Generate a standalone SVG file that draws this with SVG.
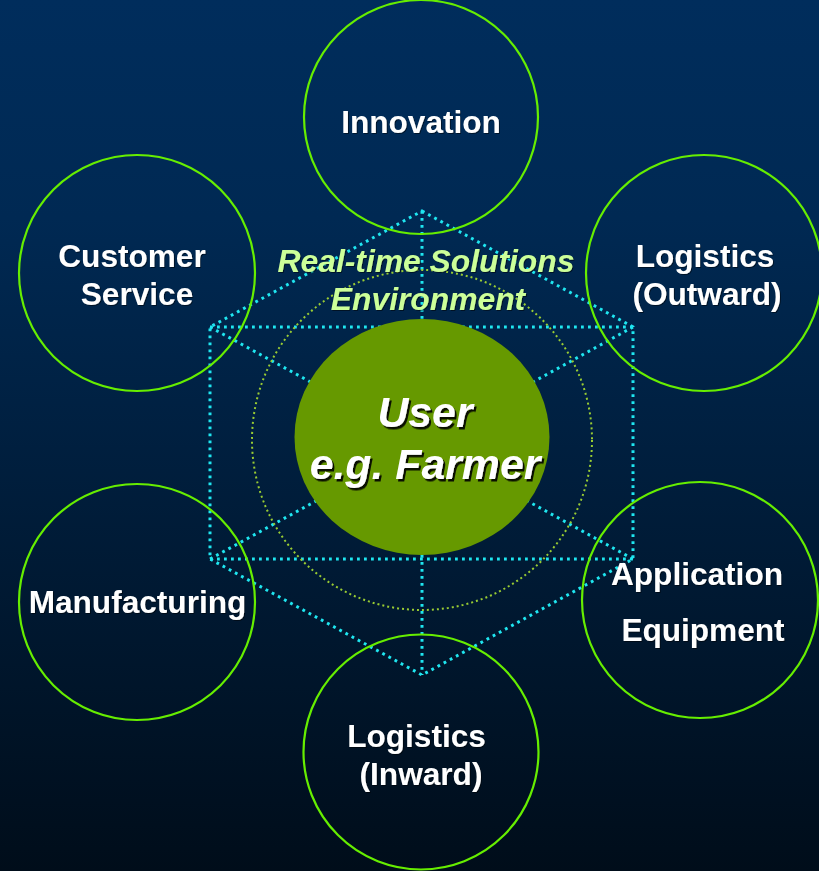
<svg xmlns="http://www.w3.org/2000/svg" width="819" height="871" viewBox="0 0 819 871">
<defs>
<linearGradient id="bg" x1="0" y1="0" x2="0" y2="1">
<stop offset="0" stop-color="#002D5C"/>
<stop offset="0.25" stop-color="#002953"/>
<stop offset="1" stop-color="#000D1A"/>
</linearGradient>
<filter id="sh" x="-10%" y="-20%" width="130%" height="150%">
<feDropShadow dx="2" dy="2.5" stdDeviation="0.6" flood-color="#000000" flood-opacity="0.9"/>
</filter>
<filter id="sh2" x="-10%" y="-20%" width="130%" height="150%">
<feDropShadow dx="1" dy="1" stdDeviation="0.5" flood-color="#000000" flood-opacity="0.5"/>
</filter>
</defs>
<style>
.node{fill:none;stroke:#66EE00;stroke-width:2.2}
.lbl{font-family:"Liberation Sans",Arial,sans-serif;font-weight:bold;font-size:31.6px;fill:#FFFFFF;text-anchor:middle}
.dot{fill:none;stroke:#1FE6F0;stroke-width:3;stroke-dasharray:2.8 4.2;stroke-linecap:butt}
.env{font-family:"Liberation Sans",Arial,sans-serif;font-weight:bold;font-style:italic;font-size:31.8px;fill:#CCFF99;text-anchor:middle}
.usr{font-family:"Liberation Sans",Arial,sans-serif;font-weight:bold;font-style:italic;font-size:42.8px;fill:#FFFFFF;text-anchor:middle}
</style>
<rect x="0" y="0" width="819" height="871" fill="url(#bg)"/>

<g id="connectors">
<path class="dot" d="M422,211 L633,327 L633,559 L422,675 L210,559 L210,327 Z"/>
<line class="dot" x1="210" y1="327" x2="633" y2="327"/>
<line class="dot" x1="210" y1="559" x2="633" y2="559"/>
<line class="dot" x1="422" y1="211" x2="422" y2="443"/>
<line class="dot" x1="422" y1="443" x2="422" y2="675"/>
<line class="dot" x1="210" y1="327" x2="422" y2="443"/>
<line class="dot" x1="633" y1="327" x2="422" y2="443"/>
<line class="dot" x1="210" y1="559" x2="422" y2="443"/>
<line class="dot" x1="633" y1="559" x2="422" y2="443"/>
<circle cx="422" cy="440" r="170" fill="none" stroke="#99CC33" stroke-width="2" stroke-dasharray="2 3"/>
</g>

<g id="innovation">
<circle class="node" cx="421" cy="117" r="117"/>
<text class="lbl" x="421" y="133" filter="url(#sh2)">Innovation</text>
</g>
<g id="customer-service">
<circle class="node" cx="137" cy="273" r="118"/>
<text class="lbl" filter="url(#sh2)"><tspan x="132" y="267">Customer</tspan><tspan x="137" y="305">Service</tspan></text>
</g>
<g id="logistics-outward">
<circle class="node" cx="704" cy="273" r="118"/>
<text class="lbl" filter="url(#sh2)"><tspan x="705" y="267">Logistics</tspan><tspan x="707" y="305">(Outward)</tspan></text>
</g>
<g id="manufacturing">
<circle class="node" cx="137" cy="602" r="118"/>
<text class="lbl" x="137.5" y="613" filter="url(#sh2)">Manufacturing</text>
</g>
<g id="application-equipment">
<circle class="node" cx="700" cy="600" r="118"/>
<text class="lbl" filter="url(#sh2)"><tspan x="697" y="585">Application</tspan><tspan x="703" y="641">Equipment</tspan></text>
</g>
<g id="logistics-inward">
<circle class="node" cx="421" cy="752" r="117.5"/>
<text class="lbl" filter="url(#sh2)"><tspan x="416.5" y="747">Logistics</tspan><tspan x="421" y="785">(Inward)</tspan></text>
</g>

<g id="environment">
<text class="env" filter="url(#sh2)"><tspan x="426" y="272">Real-time Solutions</tspan><tspan x="428" y="310">Environment</tspan></text>
</g>

<g id="user">
<ellipse cx="422" cy="437" rx="127.5" ry="118" fill="#669900"/>
<text class="usr" filter="url(#sh)"><tspan x="425" y="427">User</tspan><tspan x="425" y="479">e.g. Farmer</tspan></text>
</g>
</svg>
